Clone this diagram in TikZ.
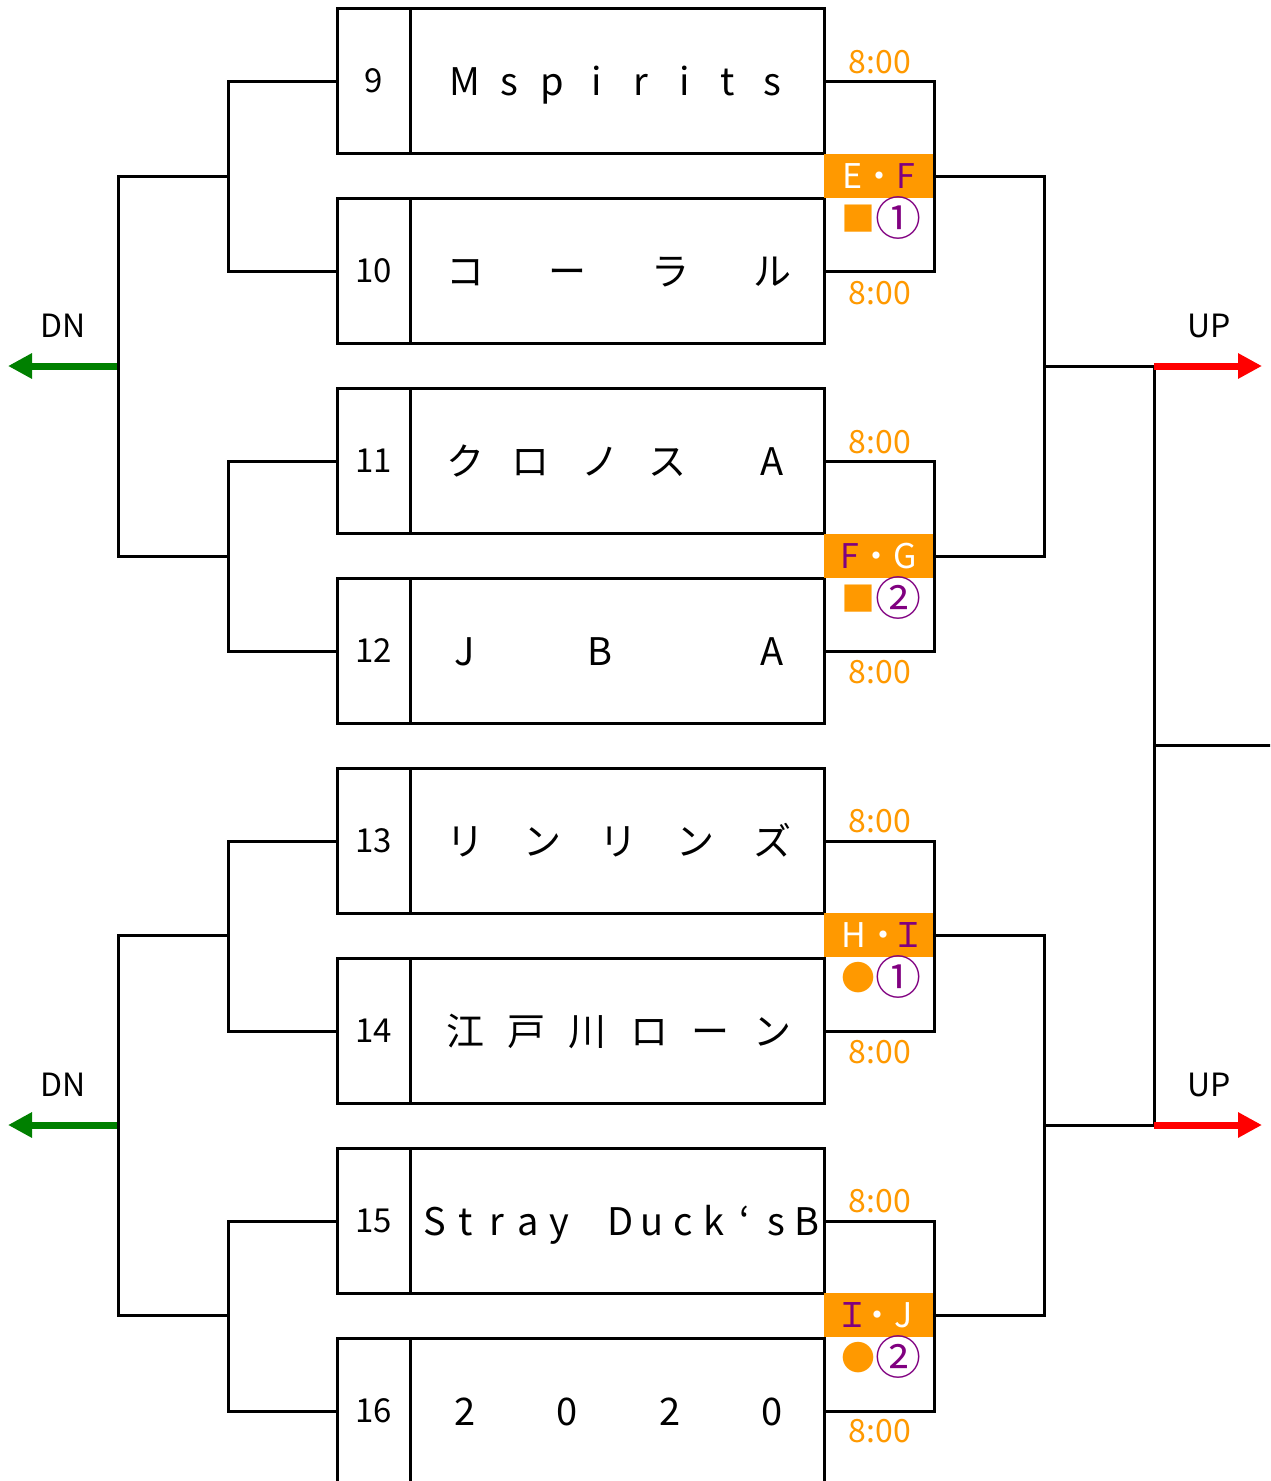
\documentclass[tikz,border=0pt]{standalone}
\usepackage{fontspec}
\setmainfont{Noto Sans CJK JP}
\usetikzlibrary{arrows.meta,positioning}
\definecolor{slotorange}{HTML}{FF9900}
\definecolor{slotpurple}{HTML}{800080}
\definecolor{dngreen}{HTML}{008000}
\tikzset{
  bracket/.style={line width=3pt},
  numcell/.style={draw,line width=3pt,outer sep=0pt,inner sep=0pt,minimum width=73pt,minimum height=145pt,font=\fontsize{33}{33}\selectfont},
  namecell/.style={draw,line width=3pt,outer sep=0pt,inner sep=0pt,minimum width=414pt,minimum height=145pt},
  namechar/.style={anchor=base,inner sep=0pt,font=\fontsize{38}{38}\selectfont},
  timelabel/.style={text=slotorange,inner sep=0pt,font=\fontsize{32}{32}\selectfont},
  slotbox/.style={fill=slotorange,outer sep=0pt,inner sep=0pt,minimum width=110pt,minimum height=44pt,font=\fontsize{34}{34}\selectfont},
  slotmark/.style={inner sep=0pt,font=\fontsize{34}{34}\selectfont},
  arrowlabel/.style={inner sep=0pt,font=\fontsize{32}{32}\selectfont},
  dnarrow/.style={draw=dngreen,line width=7pt,-{Triangle[length=24pt,width=24pt]}},
  uparrow/.style={draw=red,line width=7pt,-{Triangle[length=24pt,width=24pt]}}
}
\newcommand\teamname[3]{\foreach \px/\ch [count=\k] in {#3} \node[namechar] (c#1-\k) at (\px,#2) {\ch};}
\newcommand\wh[1]{\textcolor{white}{#1}}
\newcommand\pu[1]{\textcolor{slotpurple}{#1}}
\newcommand\circnum[1]{\textcolor{slotpurple}{\fontsize{46}{46}\selectfont\raisebox{-4pt}{#1}}}

\begin{document}
\begin{tikzpicture}[x=1pt,y=-1pt]
            \clip (0,0) rectangle (1270,1481);
            \foreach \i in {9,...,16} {
              \pgfmathsetmacro\yy{81+(\i-9)*190}
              \node[numcell] (n\i) at (373.5,\yy) {\i};
              \node[namecell,right=0pt of n\i] (t\i) {};
            }
            \teamname{9}{95}{465/M,508.9/s,552.7/p,596.6/i,640.4/r,684.3/i,728.1/t,772/s}
            \teamname{10}{285}{465/コ,567/ー,670/ラ,772/ル}
            \teamname{11}{475}{465/ク,530/ロ,600/ノ,667/ス,772/A}
            \teamname{12}{665}{465/J,600/B,772/A}
            \teamname{13}{855}{465/リ,542/ン,618/リ,695/ン,772/ズ}
            \teamname{14}{1045}{465/江,526.4/戸,587.8/川,649.2/ロ,710.6/ー,772/ン}
            \teamname{15}{1235}{435/S,466/t,497/r,528/a,559/y,621/D,652/u,683/c,714/k,745/‘,776/s,807/B}
            \teamname{16}{1425}{465/2,567/0,670/2,772/0}
            \node[slotbox] (m1) at (879,176) {\wh{E・}\pu{F}};
            \node[slotbox] (m2) at (879,556) {\pu{F}\wh{・G}};
            \node[slotbox] (m3) at (879,935) {\wh{H・}\pu{\makebox[0.45em]{Ｉ}}};
            \node[slotbox] (m4) at (879,1315) {\pu{\makebox[0.45em]{Ｉ}}\wh{・J}};
            \node[slotmark] (s1) at (881,218) {\textcolor{slotorange}{■}\circnum{①}};
            \node[slotmark] (s2) at (881,598) {\textcolor{slotorange}{■}\circnum{②}};
            \node[slotmark] (s3) at (881,977) {\textcolor{slotorange}{●}\circnum{①}};
            \node[slotmark] (s4) at (881,1357) {\textcolor{slotorange}{●}\circnum{②}};
            \foreach \i/\yy in {9/62,10/293,11/442,12/672,13/821,14/1052,15/1201,16/1431}
              \node[timelabel] (tm\i) at (880,\yy) {8:00};
            \foreach \a/\b/\m in {9/10/m1,11/12/m2,13/14/m3,15/16/m4}
              \draw[bracket] (t\a.east) -| (\m.east) |- (t\b.east);
            \coordinate (la1) at (228,176);
            \coordinate (la2) at (228,556);
            \coordinate (la3) at (228,935);
            \coordinate (la4) at (228,1315);
            \foreach \a/\b/\l in {9/10/la1,11/12/la2,13/14/la3,15/16/la4}
              \draw[bracket] (n\a.west) -| (\l) |- (n\b.west);
            \coordinate (l1) at (118,366);
            \coordinate (l2) at (118,1125);
            \coordinate (le1) at (8,366);
            \coordinate (le2) at (8,1125);
            \coordinate (r1) at (1044,366);
            \coordinate (r2) at (1044,1125);
            \coordinate (u1) at (1154,366);
            \coordinate (u2) at (1154,1125);
            \coordinate (ue1) at (1262,366);
            \coordinate (ue2) at (1262,1125);
            \coordinate (um) at (1154,745);
            \coordinate (ume) at (1272,745);
            \draw[dnarrow] (l1) -- (le1);
            \draw[dnarrow] (l2) -- (le2);
            \draw[bracket] (la1) -| (l1) |- (la2);
            \draw[bracket] (la3) -| (l2) |- (la4);
            \draw[bracket] (m1.east) -| (r1) |- (m2.east);
            \draw[bracket] (m3.east) -| (r2) |- (m4.east);
            \draw[bracket] (r1) -- (u1) -- (u2) -- (r2);
            \draw[bracket] (um) -- (ume);
            \draw[uparrow] (u1) -- (ue1);
            \draw[uparrow] (u2) -- (ue2);
            \node[arrowlabel] (dn1) at (63,326) {DN};
            \node[arrowlabel] (dn2) at (63,1085) {DN};
            \node[arrowlabel] (up1) at (1209,326) {UP};
            \node[arrowlabel] (up2) at (1209,1085) {UP};
\end{tikzpicture}
\end{document}
